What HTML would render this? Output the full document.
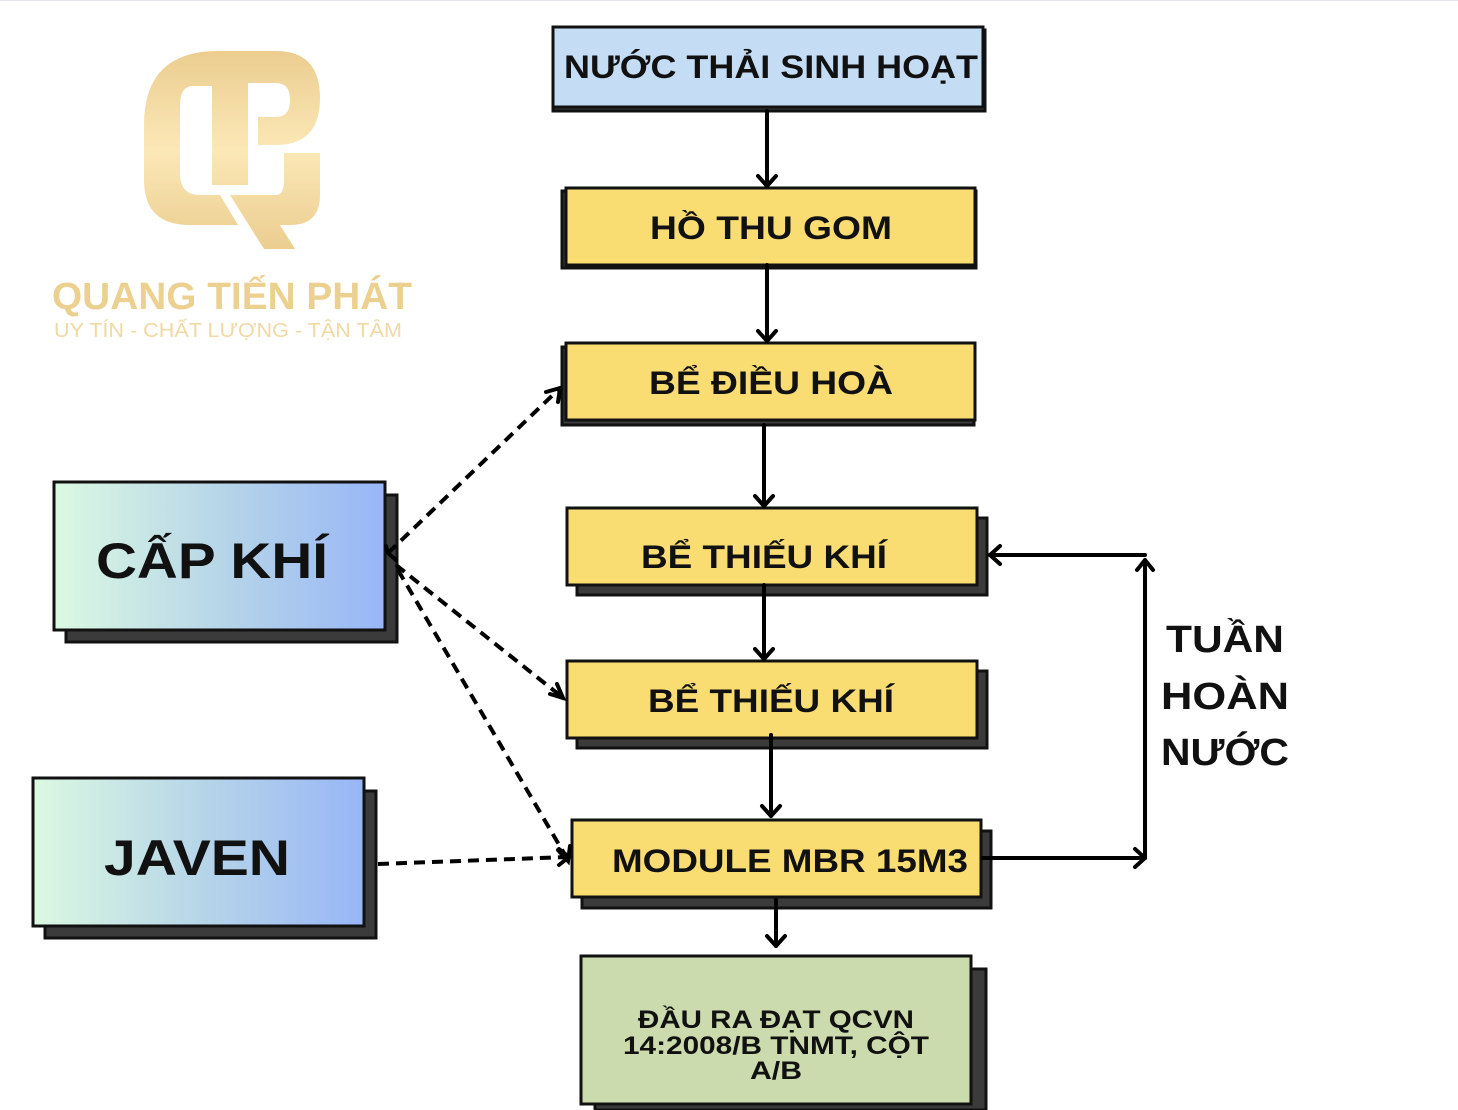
<!DOCTYPE html>
<html><head><meta charset="utf-8"><style>
html,body{margin:0;padding:0;background:#fff;}
svg{display:block;}
text{font-family:"Liberation Sans","DejaVu Sans",sans-serif;font-weight:bold;}
</style></head><body>
<svg width="1458" height="1110" viewBox="0 0 1458 1110" xmlns="http://www.w3.org/2000/svg">
<defs>
<linearGradient id="g" x1="0" x2="1" y1="0" y2="0"><stop offset="0" stop-color="#dbf9e2"/><stop offset="0.5" stop-color="#b7d6e8"/><stop offset="1" stop-color="#98b6f7"/></linearGradient>
<linearGradient id="gold" x1="0" x2="0" y1="0" y2="1"><stop offset="0" stop-color="#ebcd8f"/><stop offset="0.5" stop-color="#fbe8b7"/><stop offset="1" stop-color="#ebcd8f"/></linearGradient>
</defs>
<rect x="0" y="0" width="1458" height="1" fill="#e4e4ec"/>
<!-- logo -->
<path d="M144 125 Q144 51 218 51 L276 51 Q320 51 320 98 Q320 145 276 145 L258 145 L258 117 L276 117 Q290 117 290 100 Q290 83 276 83 L248 83 L248 185 L212 185 L212 86 L193 86 Q180 86 180 105 L180 173 Q180 195 200 195 L276 195 Q284 195 284 180 L284 153 L320 153 L320 195 Q320 225 290 225 L280 225 L295 249 L264 249 L230 195 L220 195 L238 225 L190 225 Q144 225 144 180 Z" fill="url(#gold)"/>
<text x="52" y="309" font-size="38" fill="#ecd08f" textLength="360" lengthAdjust="spacingAndGlyphs">QUANG TIẾN PHÁT</text>
<text x="54" y="337" font-size="20" font-weight="normal" style="font-weight:normal" fill="#f0d9a4" textLength="348" lengthAdjust="spacingAndGlyphs">UY TÍN - CHẤT LƯỢNG - TẬN TÂM</text>
<!-- boxes -->
<g stroke="#111" stroke-width="3">
<rect x="553" y="30" width="432" height="81" fill="#3b3b3b"/>
<rect x="553" y="27" width="430" height="80" fill="#c5dcf5"/>
<rect x="562" y="191" width="414" height="77" fill="#3b3b3b"/>
<rect x="566" y="188" width="409" height="77" fill="#f9dd72"/>
<rect x="562" y="347" width="412" height="78" fill="#3b3b3b"/>
<rect x="566" y="343" width="409" height="77" fill="#f9dd72"/>
<rect x="577" y="518" width="410" height="77" fill="#3b3b3b"/>
<rect x="567" y="508" width="410" height="77" fill="#f9dd72"/>
<rect x="577" y="671" width="410" height="77" fill="#3b3b3b"/>
<rect x="567" y="661" width="410" height="77" fill="#f9dd72"/>
<rect x="582" y="831" width="409" height="77" fill="#3b3b3b"/>
<rect x="572" y="820" width="409" height="77" fill="#f9dd72"/>
<rect x="595" y="969" width="391" height="141" fill="#3b3b3b"/>
<rect x="581" y="956" width="390" height="148" fill="#cbdbad"/>
<rect x="66" y="495" width="331" height="147" fill="#3b3b3b"/>
<rect x="54" y="482" width="331" height="148" fill="url(#g)"/>
<rect x="45" y="791" width="331" height="147" fill="#3b3b3b"/>
<rect x="33" y="778" width="331" height="148" fill="url(#g)"/>
</g>
<g fill="#111" text-anchor="middle">
<text x="771" y="78" font-size="32" textLength="414" lengthAdjust="spacingAndGlyphs">NƯỚC THẢI SINH HOẠT</text>
<text x="771" y="239" font-size="32" textLength="242" lengthAdjust="spacingAndGlyphs">HỒ THU GOM</text>
<text x="771" y="394" font-size="32" textLength="244" lengthAdjust="spacingAndGlyphs">BỂ ĐIỀU HOÀ</text>
<text x="764" y="568" font-size="32" textLength="246" lengthAdjust="spacingAndGlyphs">BỂ THIẾU KHÍ</text>
<text x="771" y="712" font-size="32" textLength="246" lengthAdjust="spacingAndGlyphs">BỂ THIẾU KHÍ</text>
<text x="790" y="872" font-size="32" textLength="356" lengthAdjust="spacingAndGlyphs">MODULE MBR 15M3</text>
<text x="776" y="1028" font-size="25" textLength="276" lengthAdjust="spacingAndGlyphs">ĐẦU RA ĐẠT QCVN</text>
<text x="776" y="1054" font-size="25" textLength="306" lengthAdjust="spacingAndGlyphs">14:2008/B TNMT, CỘT</text>
<text x="776" y="1079" font-size="25" textLength="52" lengthAdjust="spacingAndGlyphs">A/B</text>
<text x="212" y="578" font-size="50" textLength="232" lengthAdjust="spacingAndGlyphs">CẤP KHÍ</text>
<text x="197" y="875" font-size="50" textLength="186" lengthAdjust="spacingAndGlyphs">JAVEN</text>
<text x="1225" y="652" font-size="38" textLength="118" lengthAdjust="spacingAndGlyphs">TUẦN</text>
<text x="1225" y="709" font-size="38" textLength="128" lengthAdjust="spacingAndGlyphs">HOÀN</text>
<text x="1225" y="765" font-size="38" textLength="128" lengthAdjust="spacingAndGlyphs">NƯỚC</text>
</g>
<!-- connectors -->
<g stroke="#000" stroke-width="4" fill="none" stroke-linecap="round" stroke-linejoin="round">
<line x1="767" y1="111" x2="767" y2="186"/><polyline points="758,176 767,186 776,176"/>
<line x1="767" y1="265" x2="767" y2="341"/><polyline points="758,331 767,341 776,331"/>
<line x1="764" y1="425" x2="764" y2="506"/><polyline points="755,496 764,506 773,496"/>
<line x1="764" y1="585" x2="764" y2="659"/><polyline points="755,649 764,659 773,649"/>
<line x1="771" y1="735" x2="771" y2="816"/><polyline points="762,806 771,816 780,806"/>
<line x1="776" y1="900" x2="776" y2="946"/><polyline points="767,936 776,946 785,936"/>
<line x1="983" y1="858" x2="1145" y2="858"/><polyline points="1135,849 1145,858 1135,867"/>
<line x1="1145" y1="858" x2="1145" y2="560"/><polyline points="1137,570 1145,560 1153,570"/>
<line x1="1145" y1="555" x2="990" y2="555"/><polyline points="1000,546 990,555 1000,564"/>
</g>
<g stroke="#000" stroke-width="4" fill="none" stroke-dasharray="11,7">
<line x1="388" y1="553" x2="558" y2="390"/>
<line x1="396" y1="565" x2="562" y2="697"/>
<line x1="398" y1="570" x2="568" y2="860"/>
<line x1="378" y1="864" x2="568" y2="857"/>
</g>
<g stroke="#000" stroke-width="4" fill="none" stroke-linecap="round">
<polyline points="546,392 560,388 558,402"/>
<polyline points="386,546 388,553 396,560"/>
<polyline points="550,694 563,698 557,684"/>
<polyline points="558,850 568,861 570,846"/>
<polyline points="559,849 569,857 559,865"/>
</g>
</svg>
</body></html>
